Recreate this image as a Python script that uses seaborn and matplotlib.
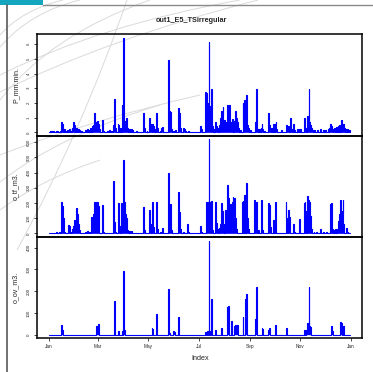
import numpy as np
import pandas as pd
import matplotlib
matplotlib.use("Agg")
import matplotlib.pyplot as plt
import matplotlib.dates as mdates
from matplotlib.path import Path
from matplotlib.patches import PathPatch, Rectangle
from matplotlib.lines import Line2D
import seaborn as sns

# ---------------- data (day-of-year index, value) ----------------
title = "out1_E5_TSirregular"
series_names = ["P_mm.min.", "o_tf_m3.", "o_ov_m3."]
month_labels = ["Jan", "Mar", "May", "Jul", "Sep", "Nov", "Jan"]

p_days = [1, 3, 5, 8, 10, 13, 15, 16, 18, 20, 22, 24, 26, 28, 29, 30, 31, 33, 35, 37, 39,
          44, 46, 48, 50, 52, 53, 54, 55, 56, 57, 58, 59, 60, 61, 64, 65,
          70, 73, 75, 78, 79, 80, 83, 84, 86, 88, 89, 90, 91, 92, 93, 94, 97, 99, 101, 105,
          114, 115, 118, 121, 122, 123, 125, 126, 128, 130, 131, 134, 136, 137,
          144, 145, 146, 147, 148, 150, 152, 156, 157, 158, 159, 162, 163, 165, 168,
          183, 184, 189, 190, 191, 192, 193, 194, 195, 196, 197, 199, 201, 202, 203, 205,
          206, 207, 208, 209, 210, 211, 212, 213, 214, 215, 216, 217, 218, 219, 220, 221,
          222, 224, 225, 226, 227, 228, 229, 231, 234, 235, 236, 237, 238, 239, 240, 241, 243,
          249, 250, 251, 252, 254, 256, 257, 258, 260, 265, 266, 267, 269, 271, 273, 274, 275,
          281, 287, 288, 289, 291, 292, 293, 295, 297, 300, 302, 304,
          308, 309, 310, 312, 313, 314, 315, 316, 317, 318,
          321, 324, 328, 331, 334, 337, 339, 340, 341, 342, 344, 345, 347, 349, 351, 353,
          354, 355, 356, 357, 359, 361, 363]
p_vals = [0.1, 0.08, 0.1, 0.1, 0.12, 0.1, 0.7, 0.55, 0.2, 0.1, 0.15, 0.2, 0.1, 0.3, 0.72, 0.5, 0.35, 0.3, 0.25, 0.15, 0.1,
          0.15, 0.2, 0.15, 0.3, 0.45, 0.5, 0.6, 1.3, 0.7, 0.5, 0.78, 0.6, 0.4, 0.2, 0.84, 0.1,
          0.1, 0.15, 0.12, 0.5, 2.24, 0.3, 0.55, 0.5, 0.3, 1.83, 1.2, 6.43, 0.8, 0.4, 0.95, 0.3, 0.2, 0.2, 0.15, 0.08,
          1.33, 0.3, 0.1, 0.95, 0.3, 0.55, 0.55, 0.4, 0.2, 1.33, 0.3, 0.1, 0.3, 0.35,
          4.92, 1.43, 1.4, 0.6, 0.2, 0.1, 0.15, 1.63, 1.33, 0.5, 0.3, 0.3, 0.2, 0.1, 0.1,
          0.43, 0.2, 2.76, 2.7, 1.5, 2.0, 6.12, 1.8, 1.2, 2.92, 0.4, 0.2, 0.72, 0.4, 0.3, 0.3,
          0.5, 1.0, 1.43, 1.2, 1.7, 0.6, 0.84, 0.7, 0.5, 1.83, 1.0, 0.6, 1.83, 0.5, 0.7, 0.9,
          0.4, 0.8, 1.43, 1.0, 0.7, 0.6, 0.3, 0.15, 2.0, 0.5, 2.2, 1.0, 2.54, 0.7, 0.5, 0.3, 0.15,
          0.72, 2.92, 0.5, 0.2, 0.2, 0.3, 0.6, 0.2, 0.1, 1.33, 0.5, 0.2, 0.3, 0.55, 0.6, 0.72, 0.2,
          0.15, 0.5, 0.3, 0.4, 0.3, 0.95, 0.2, 0.6, 0.15, 0.2, 0.2, 0.2,
          0.95, 0.5, 0.3, 1.08, 0.6, 2.92, 0.7, 0.5, 0.3, 0.15,
          0.15, 0.15, 0.2, 0.15, 0.15, 0.2, 0.3, 0.6, 0.4, 0.2, 0.25, 0.3, 0.35, 0.4, 0.5, 0.84,
          0.5, 0.3, 0.6, 0.3, 0.2, 0.2, 0.15]

tf_days = [1, 3, 6, 9, 12, 14, 15, 16, 17, 18, 21, 23, 24, 26, 28, 29, 30, 31, 32, 33, 34, 35, 36, 37,
           44, 46, 48, 51, 52, 53, 54, 55, 56, 57, 58, 59, 60, 64, 65,
           70, 75, 78, 79, 80, 83, 84, 85, 87, 88, 89, 90, 91, 92, 93, 94, 97, 99,
           114, 115, 121, 122, 125, 126, 130, 131, 134, 137,
           144, 145, 146, 147, 148, 156, 157, 158, 159, 162, 167, 168,
           183, 184, 190, 191, 192, 193, 194, 195, 196, 197, 201, 202, 203, 205, 206, 207, 208,
           209, 210, 211, 213, 214, 215, 216, 217, 218, 219, 220, 221, 222, 223, 224, 225, 226,
           233, 234, 236, 238, 239, 240, 241, 248, 249, 250, 251, 253, 256, 257, 258,
           265, 266, 267, 271, 273, 274, 286, 287, 289, 290, 291, 295, 296, 302, 303,
           308, 309, 310, 312, 313, 314, 315, 316, 317, 320, 323, 328, 331, 335,
           340, 341, 342, 344, 346, 348, 349, 350, 351, 352, 353, 354, 355, 356, 359, 360]
tf_vals = [3, 4, 5, 8, 10, 6, 204, 180, 100, 10, 5, 53, 50, 10, 30, 50, 86, 80, 60, 167, 127, 60, 20, 10,
           10, 15, 10, 106, 80, 127, 100, 204, 200, 204, 204, 180, 150, 189, 10,
           5, 5, 343, 75, 10, 200, 200, 50, 200, 106, 150, 483, 204, 127, 100, 20, 15, 15,
           174, 20, 151, 64, 204, 40, 204, 30, 10, 37,
           397, 193, 193, 193, 20, 270, 139, 60, 30, 10, 60, 10,
           46, 10, 204, 204, 204, 622, 204, 200, 215, 20, 209, 70, 30, 37, 30, 60, 198,
           150, 127, 60, 151, 100, 318, 80, 233, 40, 193, 150, 204, 237, 200, 233, 100, 30,
           204, 210, 250, 331, 174, 100, 30, 220, 204, 204, 30, 20, 220, 100, 20,
           198, 187, 40, 86, 204, 60, 209, 100, 151, 106, 30, 60, 10, 93, 30,
           198, 205, 150, 244, 220, 209, 205, 115, 30, 8, 8, 26, 10, 10,
           193, 198, 30, 20, 30, 30, 60, 80, 127, 220, 150, 127, 222, 60, 37, 10]

ov_days = [15, 16, 57, 58, 59, 60, 79, 84, 88, 90, 91,
           124, 125, 130, 144, 145, 150, 151, 156,
           189, 191, 193, 194, 196, 201, 208, 215, 216, 217, 220, 224, 225, 226, 227,
           234, 237, 238, 249, 250, 257, 258, 265, 266, 273, 287,
           308, 309, 311, 312, 313, 314, 315, 316, 341, 342, 352, 353, 355, 356]
ov_vals = [45, 20, 41, 30, 49, 10, 155, 17, 17, 293, 20,
           33, 25, 95, 210, 10, 17, 12, 83,
           12, 18, 431, 17, 164, 20, 33, 129, 60, 133, 63, 41, 45, 45, 45,
           80, 164, 186, 70, 218, 29, 25, 24, 29, 45, 33,
           20, 20, 20, 55, 40, 218, 40, 35, 41, 15, 57, 55, 40, 42]

y_ticks = [[0, 1, 2, 3, 4, 5, 6],
           [0, 100, 200, 300, 400, 500, 600],
           [0, 100, 200, 300, 400]]
y_lims = [(-0.25, 6.69), (-24, 641), (-15, 449)]

# ---------------- build daily frame ----------------
dates = pd.date_range("2021-01-01", periods=365, freq="D")
def daily(days, vals):
    arr = np.zeros(len(dates))
    arr[np.array(days)] = np.array(vals, dtype=float)
    return arr

df = pd.DataFrame({"date": dates,
                   series_names[0]: daily(p_days, p_vals),
                   series_names[1]: daily(tf_days, tf_vals),
                   series_names[2]: daily(ov_days, ov_vals)})

# ---------------- figure ----------------
sns.set_style("white")
plt.rcParams["font.family"] = ["Liberation Sans", "DejaVu Sans"]

W, H = 373, 372
fig = plt.figure(figsize=(W / 100, H / 100), dpi=100)
fig.patch.set_facecolor("white")

def fx(x):
    return x / W
def fy(y):
    return 1 - y / H

# decorative background arcs (quadratic curves, pixel coords)
arcs = [((63, 0), (22, 10), (0, 35)),
        ((80, 0), (30, 12), (0, 47)),
        ((150, 0), (50, 35), (0, 100)),
        ((240, 0), (100, 25), (0, 75)),
        ((258, 0), (110, 38), (0, 92)),
        ((127, 0), (82, 131), (17, 250)),
        ((200, 95), (90, 120), (0, 155)),
        ((160, 105), (60, 135), (0, 182)),
        ((100, 160), (40, 180), (0, 210))]
for p0, c, p1 in arcs:
    verts = [(fx(p0[0]), fy(p0[1])), (fx(c[0]), fy(c[1])), (fx(p1[0]), fy(p1[1]))]
    path = Path(verts, [Path.MOVETO, Path.CURVE3, Path.CURVE3])
    fig.add_artist(PathPatch(path, facecolor="none", edgecolor="#dadada", lw=0.7,
                             transform=fig.transFigure, zorder=0))

# frame decorations
fig.add_artist(Rectangle((0, fy(4.7)), fx(43), 4.7 / H, transform=fig.transFigure,
                         facecolor="#14a6bf", edgecolor="none", zorder=1))
fig.add_artist(Line2D([fx(43), 1], [fy(5), fy(5)], transform=fig.transFigure,
                      color="#8a8a8a", lw=1.0, zorder=1))
fig.add_artist(Line2D([fx(7), fx(7)], [fy(4.5), 0], transform=fig.transFigure,
                      color="#666666", lw=1.3, zorder=1))

left, right = 37, 362
panels = [(34, 136), (136, 237), (237, 338)]
xmin = dates[0] - pd.Timedelta(days=14.5)
xmax = dates[0] + pd.Timedelta(days=378.5)

axes = []
for i, (top, bot) in enumerate(panels):
    ax = fig.add_axes([fx(left), fy(bot), (right - left) / W, (bot - top) / H])
    ax.set_facecolor("none")
    ax.fill_between(df["date"], 0, df[series_names[i]], step="post",
                    color="#0000ff", lw=0, zorder=2)
    sns.lineplot(data=df, x="date", y=series_names[i], ax=ax, color="#0000ff",
                 lw=0.8, drawstyle="steps-post", estimator=None, zorder=3)
    ax.set_xlim(xmin, xmax)
    ax.set_ylim(*y_lims[i])
    ax.set_yticks(y_ticks[i])
    ax.set_yticklabels([str(t) for t in y_ticks[i]], rotation=90, va="center")
    ax.set_xlabel("")
    ax.set_ylabel("")
    for s in ax.spines.values():
        s.set_color("black")
        s.set_linewidth(1.1)
        s.set_visible(True)
    ax.tick_params(axis="y", direction="out", length=2.3, width=0.5, pad=2.3,
                   labelsize=3.2, left=True, color="black")
    if i < 2:
        ax.tick_params(axis="x", bottom=False, labelbottom=False)
    else:
        ax.xaxis.set_major_locator(mdates.MonthLocator(bymonth=[1, 3, 5, 7, 9, 11]))
        ticks = ax.get_xticks()
        ax.set_xticks(ticks)
        ax.set_xticklabels(month_labels[:len(ticks)])
        ax.tick_params(axis="x", direction="out", length=2.3, width=0.5, pad=2.3,
                       labelsize=3.4, bottom=True, color="black")
    fig.text(fx(16), fy((top + bot) / 2), series_names[i], rotation=90,
             fontsize=5.1, ha="center", va="center")
    axes.append(ax)

fig.text(fx(191), fy(20), title, fontsize=5.2, weight="bold", ha="center", va="center")
fig.text(fx(200), fy(358), "Index", fontsize=5.2, ha="center", va="center")

fig.savefig("out.png", dpi=100)
